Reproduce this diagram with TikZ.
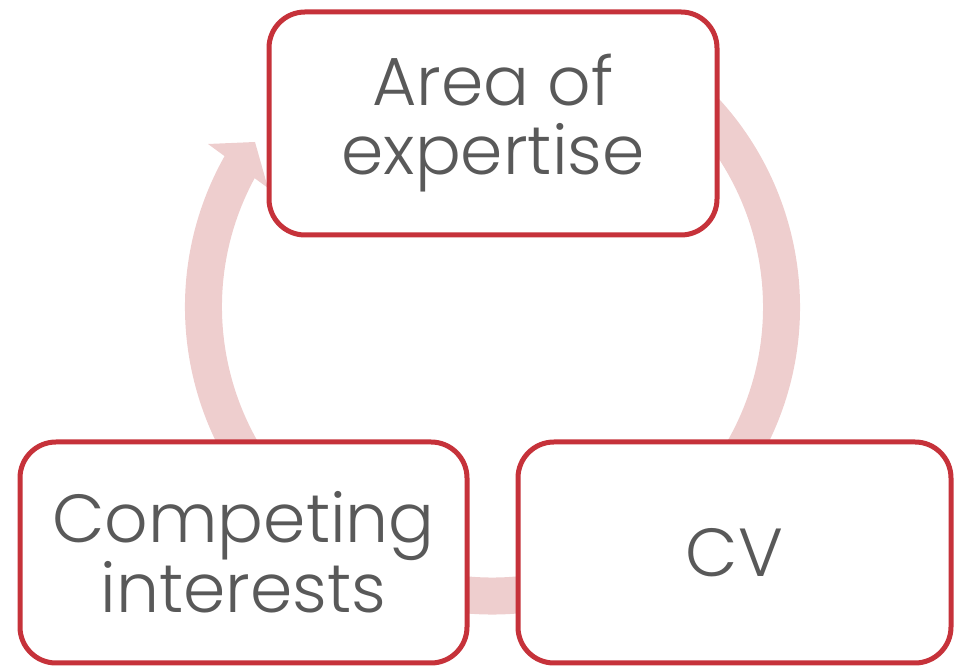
\documentclass[tikz,border=0pt]{standalone}
\usepackage{fontspec}
\setmainfont{Poppins Light}
\definecolor{boxred}{RGB}{198,50,58}
\definecolor{arcpink}{RGB}{238,206,206}
\definecolor{txtgrey}{RGB}{89,89,89}
\tikzset{
  stagebox/.style={draw=boxred, line width=5pt, fill=white, rounded corners=36pt,
    text=txtgrey, align=center, inner sep=0pt,
    font=\fontsize{68}{69}\selectfont},
  cyclearc/.style={draw=arcpink, line width=37pt, line cap=butt},
}
\begin{document}
\begin{tikzpicture}[x=1pt,y=1pt]
\useasboundingbox (0,0) rectangle (954,666);
% circle centre (492.5,359), radius 289
\coordinate (c) at (492.5,359);
\draw[cyclearc] (c) ++(150.5:289) arc[start angle=150.5, end angle=420, radius=289];
% arrowhead
\coordinate (barbout) at (208,522);
\coordinate (tip) at (255,524);
\coordinate (barbin) at (268,478);
\fill[arcpink] (barbout) -- (tip) -- (barbin) -- cycle;
% boxes
\node[stagebox, minimum width=448pt, minimum height=223pt] (area) at (493,542.5) {Area of\\expertise};
\node[stagebox, minimum width=447pt, minimum height=221pt] (comp) at (243.5,113.5) {Competing\\interests};
\node[stagebox, minimum width=433pt, minimum height=221pt] (cv) at (734.5,113.5) {CV};
\end{tikzpicture}
\end{document}
